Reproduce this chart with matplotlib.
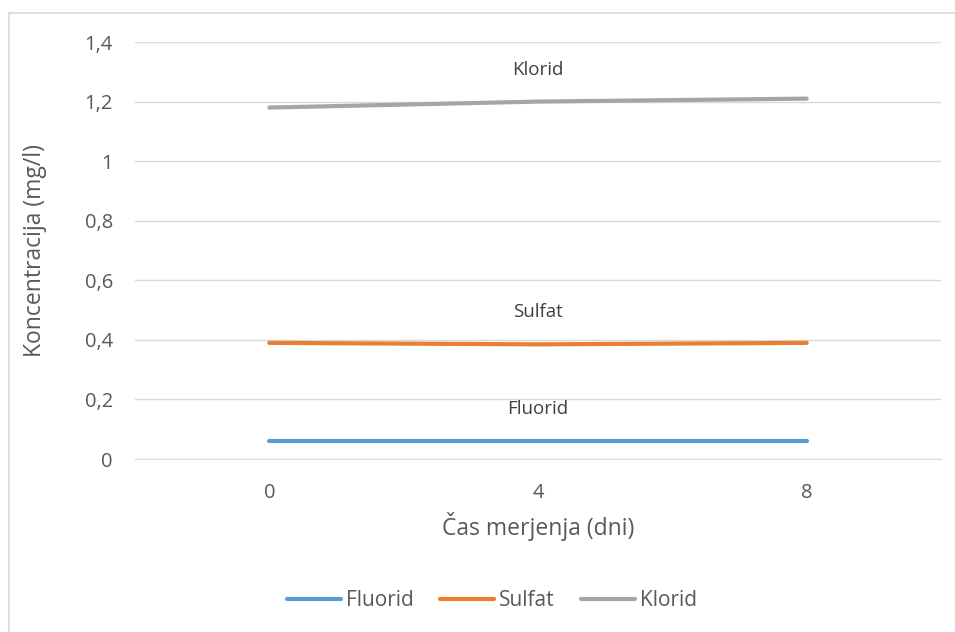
import matplotlib
matplotlib.use('Agg')
import matplotlib.pyplot as plt
from matplotlib.patches import Rectangle
from matplotlib.ticker import FuncFormatter

days = ['0', '4', '8']
fluorid = [0.06, 0.06, 0.06]
sulfat = [0.39, 0.385, 0.39]
klorid = [1.18, 1.20, 1.21]

series = [
    ('Fluorid', fluorid, '#5b9bd5'),
    ('Sulfat', sulfat, '#ed7d31'),
    ('Klorid', klorid, '#a5a5a5'),
]

text_color = '#595959'
plt.rcParams['font.family'] = ['Open Sans', 'DejaVu Sans']

fig = plt.figure(figsize=(9.55, 6.32), dpi=100)
ax = fig.add_axes([0.1414, 0.2737, 0.8439, 0.6598])

# thin frame around the chart area (runs off the right and bottom edge)
fig.patches.append(Rectangle((9 / 955, -0.05), 1.2, 1 - 13 / 632 + 0.05,
                             transform=fig.transFigure, fill=False,
                             edgecolor='#d9d9d9', linewidth=1.2))

x = list(range(len(days)))
for name, values, color in series:
    ax.plot(x, values, color=color, linewidth=3, solid_capstyle='round', label=name)
    ax.annotate(name, (x[1], values[1]), xytext=(0, 23), textcoords='offset points',
                ha='center', va='center', fontsize=13.5, color='#404040')

ax.set_xlim(-0.5, 2.5)
ax.set_ylim(0, 1.4)
ax.set_yticks([0, 0.2, 0.4, 0.6, 0.8, 1.0, 1.2, 1.4])
ax.yaxis.set_major_formatter(FuncFormatter(lambda v, p: ('%g' % round(v, 1)).replace('.', ',')))
ax.set_xticks(x)
ax.set_xticklabels(days)

ax.grid(axis='y', color='#d9d9d9', linewidth=1)
ax.set_axisbelow(True)
for side in ['top', 'right', 'left']:
    ax.spines[side].set_visible(False)
ax.spines['bottom'].set_color('#d9d9d9')
ax.tick_params(axis='both', length=0, labelsize=14.5, colors=text_color)
ax.tick_params(axis='y', pad=16)
ax.tick_params(axis='x', pad=17)

ax.set_ylabel('Koncentracija (mg/l)', fontsize=16.5, color=text_color)
ax.yaxis.set_label_coords(-0.124, 0.5)
ax.set_xlabel('Čas merjenja (dni)', fontsize=16.5, color=text_color)
ax.xaxis.set_label_coords(0.5, -0.163)
ax.xaxis.label.set_va('center')
ax.yaxis.label.set_va('center')

fig.legend(loc='center', bbox_to_anchor=(0.515, 1 - 601 / 632), ncol=3, frameon=False,
           fontsize=15, labelcolor=text_color, handlelength=2.6, handletextpad=0.25,
           columnspacing=1.25)

fig.savefig('out.png', dpi=100)
